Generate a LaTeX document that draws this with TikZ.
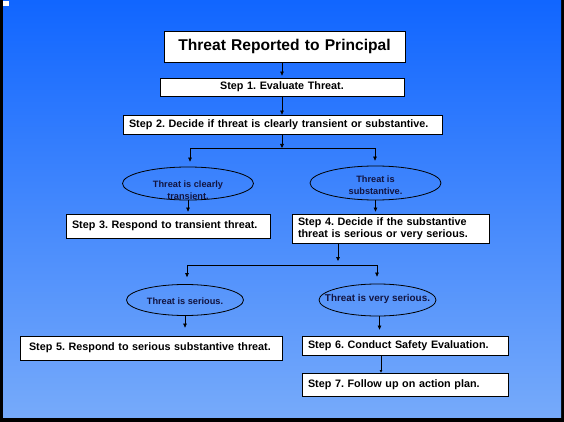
\documentclass[tikz,border=0pt]{standalone}
\usepackage{fontspec}
\setmainfont{Liberation Sans}
\usetikzlibrary{arrows.meta,shapes.geometric,shadows}
\definecolor{bgtop}{RGB}{17,102,255}
\definecolor{bgbot}{RGB}{118,170,250}
\definecolor{navy}{RGB}{18,20,64}
\frenchspacing
\begin{document}
\begin{tikzpicture}[x=1pt,y=-1pt,
  box/.style={draw=black,line width=0.8pt,fill=white,rectangle,inner ysep=0pt,inner xsep=6pt,
    font=\fontsize{10.8}{12.4}\selectfont\bfseries,align=left,
    drop shadow={shadow xshift=1pt,shadow yshift=-1pt,fill=black,opacity=0.55}},
  oval/.style={draw=black,line width=0.8pt,ellipse,inner sep=0pt},
  otext/.style={text=navy,font=\fontsize{9.2}{12}\selectfont\bfseries,align=center,inner sep=0pt},
  link/.style={draw=black,line width=0.7pt},
  arr/.style={link,-{Triangle[length=4pt,width=3.6pt]}}]
\useasboundingbox (0,0) rectangle (564,422);
% frame and background
\fill[black] (0,0) rectangle (564,422);
\shade[top color=bgtop,bottom color=bgbot] (3,1) rectangle (561,417);
\fill[white] (3,1) rectangle (9,6);
% boxes
\node[box,align=center,text width=229pt,minimum height=31pt,font=\fontsize{15.6}{18}\selectfont\bfseries] (title) at (284.5,46.5) {Threat Reported to Principal};
\node[box,align=center,text width=232pt,minimum height=18pt] (s1) at (282,87) {Step 1. Evaluate Threat.};
\node[box,text width=307pt,minimum height=19pt] (s2) at (282.5,124.5) {Step 2. Decide if threat is clearly transient or substantive.};
\node[oval,minimum width=131pt,minimum height=33pt] (e1) at (188,183.5) {};
\node[otext] (e1t) at (188,190) {Threat is clearly\\transient.};
\node[oval,minimum width=131pt,minimum height=34pt] (e2) at (375.5,183) {};
\node[otext] (e2t) at (375.5,185) {Threat is\\substantive.};
\node[box,text width=192pt,minimum height=24pt] (s3) at (168,226) {Step 3. Respond to transient threat.};
\node[box,text width=185pt,minimum height=29pt] (s4) at (390.5,228.5) {Step 4. Decide if the substantive\\threat is serious or very serious.};
\node[oval,minimum width=117pt,minimum height=31pt] (e3) at (185,300) {};
\node[otext] (e3t) at (185,301) {Threat is serious.};
\node[oval,minimum width=117pt,minimum height=32pt] (e4) at (377.5,300) {};
\node[otext,font=\fontsize{9.9}{12}\selectfont\bfseries] (e4t) at (377.5,298.5) {Threat is very serious.};
\node[box,inner xsep=9pt,text width=244pt,minimum height=24pt] (s5) at (151,348) {Step 5. Respond to serious substantive threat.};
\node[box,text width=194pt,minimum height=19pt] (s6) at (405,345.5) {Step 6. Conduct Safety Evaluation.};
\node[box,text width=194pt,minimum height=23pt] (s7) at (405,384.5) {Step 7. Follow up on action plan.};
% junction points
\coordinate (jA) at (282,148);
\coordinate (jAl) at (190,148);
\coordinate (jAr) at (375,148);
\coordinate (jB) at (338,265);
\coordinate (jBl) at (187,265);
\coordinate (jBr) at (377,265);
% connectors
\draw[arr,shorten >=2pt] (title.south -| s1.north) -- (s1.north);
\draw[arr] (s1.south) -- (s1.south |- s2.north);
\draw[arr] (s2.south -| jA) -- (jA);
\draw[link] (jAl) -- (jAr);
\draw[arr,shorten >=5pt] (jAl) -- (jAl |- e1.north);
\draw[arr,shorten >=5pt] (jAr) -- (jAr |- e2.north);
\draw[arr,shorten >=2pt] (e1.south) -- (e1.south |- s3.north);
\draw[arr,shorten >=2pt] (e2.south) -- (e2.south |- s4.north);
\draw[arr,shorten >=4pt] (s4.south -| jB) -- (jB);
\draw[link] (jBl) -- (jBr);
\draw[arr,shorten >=7pt] (jBl) -- (jBl |- e3.north);
\draw[arr,shorten >=7pt] (jBr) -- (jBr |- e4.north);
\draw[arr,shorten >=8pt] (e3.south) -- (e3.south |- s5.north);
\draw[arr,shorten >=6pt] ([xshift=2pt]e4.south) -- ([xshift=2pt]e4.south |- s6.north);
\draw[arr,-{Triangle[length=2.5pt,width=2.5pt]}] ([xshift=-24pt]s6.south) -- ([xshift=-24pt]s7.north);
\end{tikzpicture}
\end{document}
